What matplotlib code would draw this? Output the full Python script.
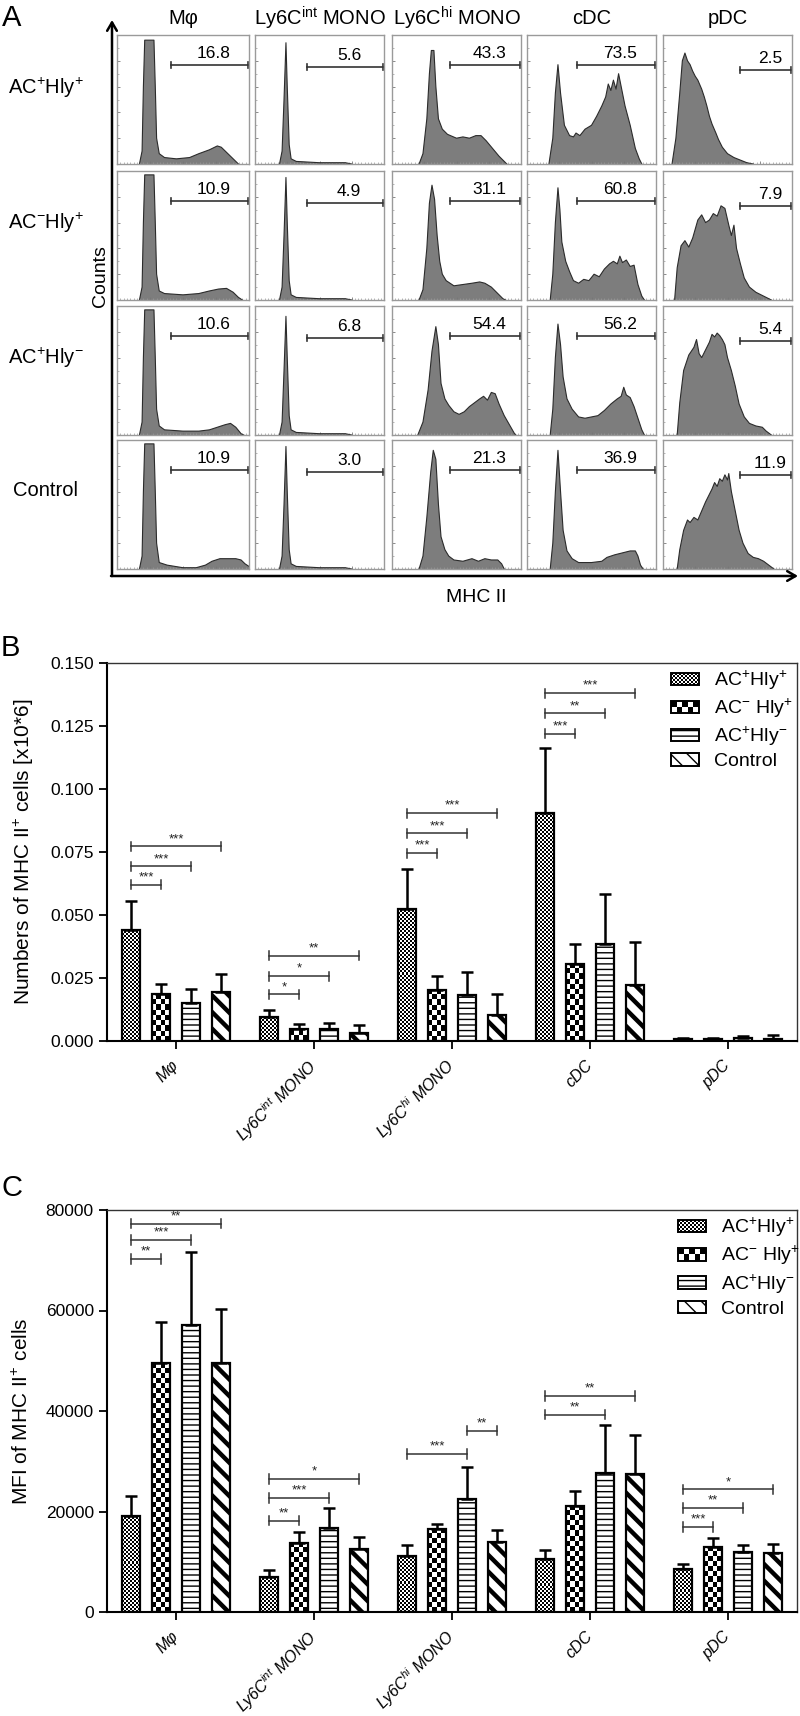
import matplotlib
matplotlib.use("Agg")
import numpy as np
import matplotlib.pyplot as plt
from matplotlib.colors import ListedColormap
from matplotlib.legend_handler import HandlerBase
from matplotlib.patches import Patch, Rectangle, FancyArrowPatch
from matplotlib.ticker import MultipleLocator, FormatStrFormatter

W, H = 800, 1716

plt.rcParams['font.family'] = ['Liberation Sans', 'DejaVu Sans']
plt.rcParams['mathtext.fontset'] = 'custom'
plt.rcParams['mathtext.rm'] = 'Liberation Sans'
plt.rcParams['mathtext.it'] = 'Liberation Sans:italic'
plt.rcParams['mathtext.bf'] = 'Liberation Sans:bold'
plt.rcParams['mathtext.default'] = 'regular'

# ---------------- data ----------------
CELL_TYPES = ['M\u03c6', 'Ly6C$^{int}$ MONO', 'Ly6C$^{hi}$ MONO', 'cDC', 'pDC']
CELL_TYPES_IT = ['M\u03c6', r'Ly6C$^{\mathit{int}}$ MONO', r'Ly6C$^{\mathit{hi}}$ MONO', 'cDC', 'pDC']
ROW_LABELS = [r'AC$^{+}$Hly$^{+}$', r'AC$^{-}$Hly$^{+}$', r'AC$^{+}$Hly$^{-}$', 'Control']
LEGEND_LABELS = [r'AC$^{+}$Hly$^{+}$', r'AC$^{-}$ Hly$^{+}$', r'AC$^{+}$Hly$^{-}$', 'Control']

# panel A: histogram outlines (MHC II position 0-100, counts in % of panel height)
hist_acp_hlyp = [
    [(17, 0), (19, 10), (20, 60), (21, 96), (28, 96), (29, 60), (30, 20), (32, 8), (36, 5), (45, 4), (55, 5),
     (62, 8), (70, 11), (76, 14), (79, 13), (84, 8), (90, 2), (92, 0)],
    [(19, 0), (21, 10), (22.5, 50), (24, 94), (25, 60), (26.5, 15), (28, 4), (32, 2), (50, 1), (70, 1), (75, 0)],
    [(21, 0), (24, 8), (27, 35), (29, 70), (30.5, 88), (32.5, 88), (34, 60), (36, 35), (39, 27), (43, 23), (50, 20),
     (55, 21), (60, 20), (65, 22), (69, 22), (73, 18), (78, 12), (83, 6), (87, 2), (89, 0)],
    [(17, 0), (20, 20), (22, 55), (24, 77), (26, 55), (29, 30), (33, 22), (36, 21), (38, 24), (41, 22), (45, 27),
     (50, 30), (54, 37), (58, 45), (61, 52), (63, 62), (65, 57), (67, 65), (69, 58), (71, 70), (73, 60), (76, 45),
     (80, 30), (84, 12), (87, 4), (89, 0)],
    [(7, 0), (10, 20), (13, 55), (15, 80), (17, 86), (19, 80), (21, 77), (23, 72), (25, 68), (27, 65), (30, 58),
     (32, 52), (34, 45), (36, 37), (38, 31), (41, 24), (43, 19), (46, 13), (50, 8), (55, 5), (60, 3), (65, 1), (70, 0)],
]
hist_acn_hlyp = [
    [(17, 0), (19, 10), (20, 60), (21, 97), (28, 97), (29, 60), (30, 20), (32, 7), (36, 5), (50, 4), (62, 5),
     (70, 7), (77, 8.5), (83, 9), (88, 6), (92, 2), (95, 0)],
    [(19, 0), (21, 10), (22.5, 50), (24, 95), (25, 60), (26.5, 15), (28, 4), (32, 2), (50, 1), (70, 1), (75, 0)],
    [(21, 0), (24, 8), (27, 40), (29, 75), (31, 89), (33, 78), (35, 50), (37, 30), (39, 20), (42, 15), (48, 11),
     (55, 12), (62, 13), (68, 14), (72, 13), (77, 10), (82, 5), (86, 1), (88, 0)],
    [(18, 0), (20, 20), (22, 60), (24, 87), (25.5, 70), (27, 45), (30, 30), (33, 22), (36, 15), (40, 13), (44, 16),
     (48, 15), (52, 20), (56, 18), (60, 24), (64, 28), (67, 30), (70, 28), (72, 34), (74, 29), (77, 31), (80, 26),
     (83, 27), (86, 12), (89, 3), (91, 0)],
    [(9, 0), (11, 25), (14, 42), (17, 46), (20, 41), (23, 48), (27, 62), (30, 66), (33, 60), (36, 62), (39, 67),
     (42, 65), (45, 73), (48, 71), (51, 58), (53, 50), (55, 58), (57, 40), (60, 28), (63, 17), (67, 10), (72, 6),
     (78, 3), (84, 0)],
]
hist_acp_hlyn = [
    [(17, 0), (19, 10), (20, 60), (21, 97), (28, 97), (29, 60), (30, 20), (32, 7), (36, 4), (50, 3), (62, 3),
     (70, 4), (76, 6), (82, 8), (86, 9), (90, 6), (94, 1), (96, 0)],
    [(19, 0), (21, 10), (22.5, 50), (24, 92), (25, 60), (26.5, 15), (28, 4), (32, 2), (50, 1), (70, 1), (75, 0)],
    [(20, 0), (24, 10), (28, 35), (31, 65), (34, 84), (36, 70), (38, 40), (41, 28), (44, 23), (48, 18), (52, 16),
     (56, 18), (60, 22), (64, 25), (68, 28), (71, 30), (74, 27), (77, 33), (80, 32), (83, 24), (87, 15), (91, 8),
     (95, 1), (96, 0)],
    [(18, 0), (20, 20), (22, 60), (24, 86), (26, 70), (28, 45), (31, 28), (35, 20), (40, 14), (45, 13), (50, 14),
     (55, 15), (60, 19), (65, 24), (70, 28), (73, 30), (75, 37), (77, 31), (80, 29), (83, 22), (86, 13), (89, 4),
     (91, 0)],
    [(11, 0), (13, 25), (16, 50), (20, 62), (24, 68), (26, 74), (28, 63), (30, 60), (33, 66), (36, 72), (38, 78),
     (40, 76), (42, 79), (44, 77), (46, 74), (48, 70), (50, 60), (53, 50), (56, 38), (59, 24), (63, 14), (67, 9),
     (72, 7), (77, 6), (80, 3), (84, 0)],
]
hist_control = [
    [(17, 0), (19, 10), (20, 60), (21, 97), (28, 97), (29, 60), (30, 20), (32, 5), (38, 3), (50, 1), (60, 1),
     (67, 3), (72, 6), (78, 8), (84, 8), (90, 8), (94, 7), (97, 4), (100, 2)],
    [(19, 0), (21, 10), (22.5, 50), (24, 95), (25, 60), (26.5, 15), (28, 4), (32, 2), (50, 1), (70, 1), (75, 0)],
    [(21, 0), (24, 10), (27, 40), (30, 75), (32, 92), (34, 85), (36, 50), (38, 25), (41, 15), (44, 10), (48, 7),
     (55, 6), (62, 8), (67, 6), (72, 8), (77, 7), (82, 7), (85, 4), (87, 0)],
    [(18, 0), (20, 20), (22, 60), (24, 92), (26, 60), (28, 30), (31, 14), (35, 8), (40, 5), (50, 5), (58, 6),
     (62, 9), (68, 11), (72, 12), (76, 13), (80, 14), (84, 14), (86, 10), (88, 3), (90, 0)],
    [(11, 0), (13, 15), (16, 30), (19, 38), (21, 36), (24, 40), (27, 38), (30, 45), (33, 52), (36, 58), (38, 62),
     (40, 67), (42, 64), (44, 70), (46, 68), (48, 73), (50, 69), (51, 74), (53, 60), (55, 50), (57, 40), (59, 30),
     (62, 20), (66, 12), (70, 9), (74, 8), (78, 6), (82, 3), (86, 0)],
]
HISTS = [hist_acp_hlyp, hist_acn_hlyp, hist_acp_hlyn, hist_control]

gate_pct = [
    ['16.8', '5.6', '43.3', '73.5', '2.5'],
    ['10.9', '4.9', '31.1', '60.8', '7.9'],
    ['10.6', '6.8', '54.4', '56.2', '5.4'],
    ['10.9', '3.0', '21.3', '36.9', '11.9'],
]
gate_start = [41, 40, 45, 38.5, 60]

# panel B: numbers of MHC II+ cells [x10*6], mean and SD
b_acp_hlyp = [0.0442, 0.0095, 0.0524, 0.0904, 0.0008]
b_acn_hlyp = [0.0185, 0.0049, 0.0204, 0.0306, 0.0007]
b_acp_hlyn = [0.0152, 0.0046, 0.0181, 0.0383, 0.0010]
b_control = [0.0195, 0.0030, 0.0103, 0.0222, 0.0009]
b_acp_hlyp_sd = [0.0112, 0.0030, 0.0159, 0.0257, 0.0004]
b_acn_hlyp_sd = [0.0043, 0.0020, 0.0053, 0.0079, 0.0005]
b_acp_hlyn_sd = [0.0055, 0.0024, 0.0092, 0.0200, 0.0008]
b_control_sd = [0.0069, 0.0032, 0.0084, 0.0170, 0.0013]
b_sig = [(0, 0, 1, 0.0620, '***'), (0, 0, 2, 0.0693, '***'), (0, 0, 3, 0.0772, '***'),
         (1, 0, 1, 0.0185, '*'), (1, 0, 2, 0.0257, '*'), (1, 0, 3, 0.0339, '**'),
         (2, 0, 1, 0.0745, '***'), (2, 0, 2, 0.0824, '***'), (2, 0, 3, 0.0904, '***'),
         (3, 0, 1, 0.1220, '***'), (3, 0, 2, 0.1300, '**'), (3, 0, 3, 0.1380, '***')]

# panel C: MFI of MHC II+ cells, mean and SD
c_acp_hlyp = [19200, 7000, 11200, 10500, 8500]
c_acn_hlyp = [49500, 13800, 16600, 21100, 13000]
c_acp_hlyn = [57100, 16700, 22400, 27700, 12000]
c_control = [49500, 12600, 14000, 27400, 11800]
c_acp_hlyp_sd = [3900, 1300, 2100, 1900, 1000]
c_acn_hlyp_sd = [8300, 2100, 1000, 2900, 1700]
c_acp_hlyn_sd = [14500, 3900, 6500, 9600, 1400]
c_control_sd = [10800, 2300, 2300, 7800, 1800]
c_sig = [(0, 0, 1, 70200, '**'), (0, 0, 2, 74000, '***'), (0, 0, 3, 77300, '**'),
         (1, 0, 1, 18200, '**'), (1, 0, 2, 22700, '***'), (1, 0, 3, 26500, '*'),
         (2, 0, 2, 31400, '***'), (2, 2, 3, 36100, '**'),
         (3, 0, 2, 39300, '**'), (3, 0, 3, 43000, '**'),
         (4, 0, 1, 16900, '***'), (4, 0, 2, 20700, '**'), (4, 0, 3, 24400, '*')]

# ---------------- styles ----------------
CHECKER_PX = [2, 5, None, None]      # checkerboard fills (cell size in pixels)
HATCHES = [None, None, '---', '\\\\']
HATCH_LW = [1.0, 1.0, 1.0, 3.2]
BAR_STEP = 0.217
BAR_W = 0.13
CHECKER_CMAP = ListedColormap(['white', 'black'])

fig = plt.figure(figsize=(W / 100, H / 100), dpi=100)


def px_axes(x0, y0, x1, y1):
    return fig.add_axes([x0 / W, 1 - y1 / H, (x1 - x0) / W, (y1 - y0) / H])


def ftext(x, y, s, **kw):
    fig.text(x / W, 1 - y / H, s, **kw)


class CheckerHandler(HandlerBase):
    def __init__(self, cell_pt):
        super().__init__()
        self.cell = cell_pt

    def create_artists(self, legend, orig_handle, xdescent, ydescent, width, height, fontsize, trans):
        x0, y0 = -xdescent, -ydescent
        nx = max(1, int(round(width / self.cell)))
        ny = max(1, int(round(height / self.cell)))
        cw, ch = width / nx, height / ny
        arts = [Rectangle((x0, y0), width, height, facecolor='white', edgecolor='none')]
        for i in range(nx):
            for j in range(ny):
                if (i + j) % 2:
                    arts.append(Rectangle((x0 + i * cw, y0 + j * ch), cw, ch, facecolor='black', edgecolor='none'))
        arts.append(Rectangle((x0, y0), width, height, facecolor='none', edgecolor='black', linewidth=1.4))
        for a in arts:
            a.set_transform(trans)
        return arts


# ---------------- panel A ----------------
COL_X = [(117, 249), (255, 384), (392, 521), (527, 656), (663, 792)]
ROW_Y = [(35, 164), (171, 300), (306, 435), (440, 569)]
GATE_Y = [77, 75, 77, 77, 73]

for r, (y0, y1) in enumerate(ROW_Y):
    for c, (x0, x1) in enumerate(COL_X):
        ax = px_axes(x0, y0, x1, y1)
        pts = HISTS[r][c]
        xs = [p[0] for p in pts]
        ys = [p[1] for p in pts]
        ax.fill_between(xs, 0, ys, facecolor='#7d7d7d', edgecolor='none')
        ax.plot(xs, ys, color='#2b2b2b', lw=0.8)
        gy = GATE_Y[c]
        g0 = gate_start[c]
        ax.plot([g0, 99.3], [gy, gy], color='#333333', lw=1.2)
        ax.plot([g0, g0], [gy - 2.2, gy + 2.2], color='#333333', lw=1.2)
        ax.plot([99.3, 99.3], [gy - 2.2, gy + 2.2], color='#333333', lw=1.2)
        ax.text((g0 + 100) / 2 + 3, gy + 3, gate_pct[r][c], ha='center', va='bottom', fontsize=12.5)
        ax.set_xlim(0, 100)
        ax.set_ylim(0, 100)
        for sp in ax.spines.values():
            sp.set_color('#9a9a9a')
            sp.set_linewidth(1.0)
        ax.xaxis.set_major_locator(MultipleLocator(25))
        ax.xaxis.set_minor_locator(MultipleLocator(2.5))
        ax.yaxis.set_major_locator(MultipleLocator(20))
        ax.yaxis.set_minor_locator(MultipleLocator(10))
        ax.tick_params(which='major', direction='in', length=2.5, width=0.6, color='#777777',
                       labelbottom=False, labelleft=False)
        ax.tick_params(which='minor', direction='in', length=1.5, width=0.5, color='#999999')

for c, (x0, x1) in enumerate(COL_X):
    ftext((x0 + x1) / 2, 18, CELL_TYPES[c], ha='center', va='center', fontsize=14.5)
for r, yl in enumerate([88, 223, 358, 491]):
    ftext(46, yl, ROW_LABELS[r], ha='center', va='center', fontsize=14.5)

ftext(12, 18, 'A', ha='center', va='center', fontsize=21)
ftext(100, 276, 'Counts', ha='center', va='center', rotation=90, fontsize=14)
ftext(476, 598, 'MHC II', ha='center', va='center', fontsize=14)

fig.add_artist(FancyArrowPatch((112 / W, 1 - 576 / H), (112 / W, 1 - 20 / H), transform=fig.transFigure,
                               arrowstyle='->,head_length=6,head_width=3.5', lw=1.8, color='black',
                               shrinkA=0, shrinkB=0))
fig.add_artist(FancyArrowPatch((111 / W, 1 - 576 / H), (798 / W, 1 - 576 / H), transform=fig.transFigure,
                               arrowstyle='->,head_length=6,head_width=3.5', lw=1.8, color='black',
                               shrinkA=0, shrinkB=0))


# ---------------- bar panels ----------------
def bar_panel(ax, means, sds, sig, ymax, ystep, yfmt, ylabel, legend_xy):
    pos = ax.get_position()
    px_x = pos.width * W / 5.0
    px_y = pos.height * H / ymax
    handles = []
    handler_map = {}
    for j in range(4):
        xs = [i + (j - 1.5) * BAR_STEP for i in range(5)]
        cell = CHECKER_PX[j]
        bars = ax.bar(xs, means[j], width=BAR_W, color='white' if cell is None else 'none',
                      edgecolor='black', linewidth=1.6, hatch=HATCHES[j], zorder=2)
        for b in bars:
            if HATCHES[j] and hasattr(b, 'set_hatch_linewidth'):
                b.set_hatch_linewidth(HATCH_LW[j])
            if cell is not None:
                bx, bw, bh = b.get_x(), b.get_width(), b.get_height()
                nx = max(1, int(round(bw * px_x / cell)))
                ny = max(1, int(round(bh * px_y / cell)))
                pattern = np.indices((ny, nx)).sum(axis=0) % 2
                ax.imshow(pattern, cmap=CHECKER_CMAP, vmin=0, vmax=1, extent=(bx, bx + bw, 0, bh),
                          origin='lower', aspect='auto', interpolation='nearest', zorder=1.5)
        ax.errorbar(xs, means[j], yerr=[[0] * 5, sds[j]], fmt='none', ecolor='black',
                    elinewidth=1.8, capsize=4, capthick=1.8, zorder=3)
        hp = Patch(facecolor='white', edgecolor='black', linewidth=1.4, hatch=HATCHES[j])
        if HATCHES[j] and hasattr(hp, 'set_hatch_linewidth'):
            hp.set_hatch_linewidth(HATCH_LW[j])
        if cell is not None:
            handler_map[hp] = CheckerHandler(cell * 0.72)
        handles.append(hp)

    tick = ymax * 0.012
    for cat, ga, gb, yv, lab in sig:
        xa = cat + (ga - 1.5) * BAR_STEP
        xb = cat + (gb - 1.5) * BAR_STEP
        ax.plot([xa, xb], [yv, yv], color='#333333', lw=1.1, zorder=4)
        ax.plot([xa, xa], [yv - tick, yv + tick], color='#333333', lw=1.1, zorder=4)
        ax.plot([xb, xb], [yv - tick, yv + tick], color='#333333', lw=1.1, zorder=4)
        ax.text((xa + xb) / 2, yv + tick * 0.3, lab, ha='center', va='bottom', fontsize=9.5, color='#222222')

    ax.set_xlim(-0.5, 4.5)
    ax.set_ylim(0, ymax)
    ax.yaxis.set_major_locator(MultipleLocator(ystep))
    ax.yaxis.set_major_formatter(FormatStrFormatter(yfmt))
    ax.set_xticks(range(5))
    ax.set_xticklabels(CELL_TYPES_IT, rotation=45, ha='right', va='center', rotation_mode='anchor',
                       style='italic', fontsize=11.5)
    ax.tick_params(axis='y', labelsize=12.5, length=6, width=1.3, direction='out')
    ax.tick_params(axis='x', length=6, width=1.3, direction='out', pad=10)
    ax.spines['left'].set_linewidth(1.5)
    ax.spines['bottom'].set_linewidth(1.5)
    for s in ('top', 'right'):
        ax.spines[s].set_linewidth(1.0)
        ax.spines[s].set_color('#333333')
    ax.set_ylabel(ylabel, fontsize=15, labelpad=10)
    ax.legend(handles, LEGEND_LABELS, handler_map=handler_map, loc='upper left', bbox_to_anchor=legend_xy,
              frameon=False, fontsize=14, handlelength=1.4, handleheight=0.6, handletextpad=0.8,
              labelspacing=0.25, borderpad=0, borderaxespad=0)


axB = px_axes(107, 663, 797, 1041)
bar_panel(axB, [b_acp_hlyp, b_acn_hlyp, b_acp_hlyn, b_control],
          [b_acp_hlyp_sd, b_acn_hlyp_sd, b_acp_hlyn_sd, b_control_sd],
          b_sig, 0.150, 0.025, '%.3f', r'Numbers of MHC II$^{+}$ cells [x10*6]', (0.818, 0.985))
ftext(10, 648, 'B', ha='center', va='center', fontsize=21)

axC = px_axes(107, 1210, 797, 1612)
bar_panel(axC, [c_acp_hlyp, c_acn_hlyp, c_acp_hlyn, c_control],
          [c_acp_hlyp_sd, c_acn_hlyp_sd, c_acp_hlyn_sd, c_control_sd],
          c_sig, 80000, 20000, '%d', r'MFI of MHC II$^{+}$ cells', (0.828, 0.985))
ftext(12, 1188, 'C', ha='center', va='center', fontsize=21)

fig.savefig('out.png', dpi=100)
